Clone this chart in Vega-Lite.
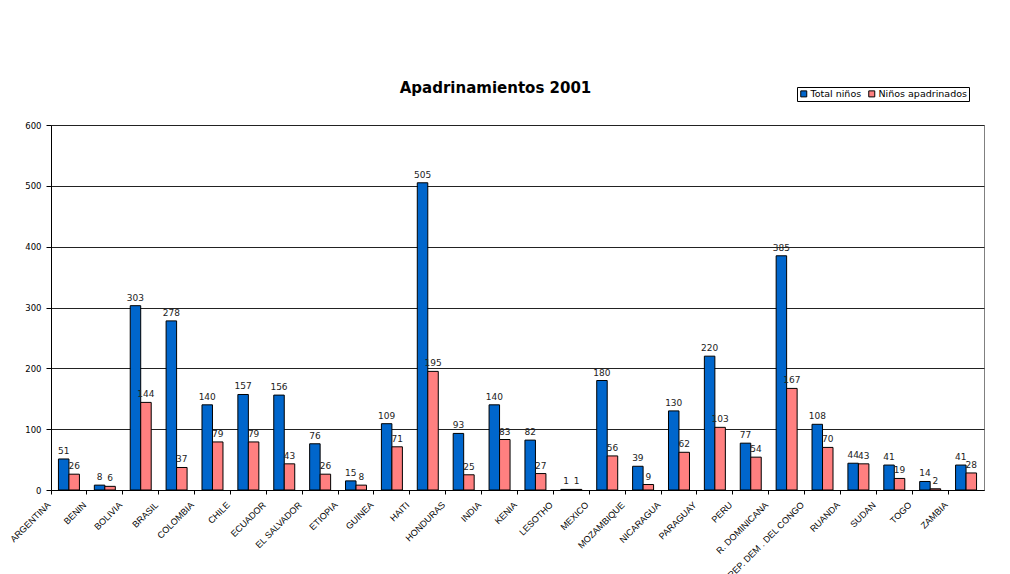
{
  "$schema": "https://vega.github.io/schema/vega-lite/v6.json",
  "autosize": {"type": "none"},
  "padding": {"left": 51, "top": 125, "right": 26, "bottom": 84},
  "width": 933,
  "height": 365,
  "background": "white",
  "title": {
    "text": "Apadrinamientos 2001",
    "font": "DejaVu Sans",
    "fontSize": 15,
    "fontWeight": "bold",
    "color": "black",
    "anchor": "middle",
    "frame": "group",
    "dx": -22,
    "dy": 33,
    "offset": 24
  },
  "config": {
    "view": {"stroke": "#808080", "strokeWidth": 1},
    "axis": {"titleFont": "Liberation Sans"}
  },
  "data": {
    "values": [
      {"pais": "ARGENTINA", "serie": "Total niños", "valor": 51},
      {"pais": "ARGENTINA", "serie": "Niños apadrinados", "valor": 26},
      {"pais": "BENIN", "serie": "Total niños", "valor": 8},
      {"pais": "BENIN", "serie": "Niños apadrinados", "valor": 6},
      {"pais": "BOLIVIA", "serie": "Total niños", "valor": 303},
      {"pais": "BOLIVIA", "serie": "Niños apadrinados", "valor": 144},
      {"pais": "BRASIL", "serie": "Total niños", "valor": 278},
      {"pais": "BRASIL", "serie": "Niños apadrinados", "valor": 37},
      {"pais": "COLOMBIA", "serie": "Total niños", "valor": 140},
      {"pais": "COLOMBIA", "serie": "Niños apadrinados", "valor": 79},
      {"pais": "CHILE", "serie": "Total niños", "valor": 157},
      {"pais": "CHILE", "serie": "Niños apadrinados", "valor": 79},
      {"pais": "ECUADOR", "serie": "Total niños", "valor": 156},
      {"pais": "ECUADOR", "serie": "Niños apadrinados", "valor": 43},
      {"pais": "EL SALVADOR", "serie": "Total niños", "valor": 76},
      {"pais": "EL SALVADOR", "serie": "Niños apadrinados", "valor": 26},
      {"pais": "ETIOPIA", "serie": "Total niños", "valor": 15},
      {"pais": "ETIOPIA", "serie": "Niños apadrinados", "valor": 8},
      {"pais": "GUINEA", "serie": "Total niños", "valor": 109},
      {"pais": "GUINEA", "serie": "Niños apadrinados", "valor": 71},
      {"pais": "HAITI", "serie": "Total niños", "valor": 505},
      {"pais": "HAITI", "serie": "Niños apadrinados", "valor": 195},
      {"pais": "HONDURAS", "serie": "Total niños", "valor": 93},
      {"pais": "HONDURAS", "serie": "Niños apadrinados", "valor": 25},
      {"pais": "INDIA", "serie": "Total niños", "valor": 140},
      {"pais": "INDIA", "serie": "Niños apadrinados", "valor": 83},
      {"pais": "KENIA", "serie": "Total niños", "valor": 82},
      {"pais": "KENIA", "serie": "Niños apadrinados", "valor": 27},
      {"pais": "LESOTHO", "serie": "Total niños", "valor": 1},
      {"pais": "LESOTHO", "serie": "Niños apadrinados", "valor": 1},
      {"pais": "MEXICO", "serie": "Total niños", "valor": 180},
      {"pais": "MEXICO", "serie": "Niños apadrinados", "valor": 56},
      {"pais": "MOZAMBIQUE", "serie": "Total niños", "valor": 39},
      {"pais": "MOZAMBIQUE", "serie": "Niños apadrinados", "valor": 9},
      {"pais": "NICARAGUA", "serie": "Total niños", "valor": 130},
      {"pais": "NICARAGUA", "serie": "Niños apadrinados", "valor": 62},
      {"pais": "PARAGUAY", "serie": "Total niños", "valor": 220},
      {"pais": "PARAGUAY", "serie": "Niños apadrinados", "valor": 103},
      {"pais": "PERU", "serie": "Total niños", "valor": 77},
      {"pais": "PERU", "serie": "Niños apadrinados", "valor": 54},
      {"pais": "R. DOMINICANA", "serie": "Total niños", "valor": 385},
      {"pais": "R. DOMINICANA", "serie": "Niños apadrinados", "valor": 167},
      {"pais": "REP. DEM . DEL CONGO", "serie": "Total niños", "valor": 108},
      {"pais": "REP. DEM . DEL CONGO", "serie": "Niños apadrinados", "valor": 70},
      {"pais": "RUANDA", "serie": "Total niños", "valor": 44},
      {"pais": "RUANDA", "serie": "Niños apadrinados", "valor": 43},
      {"pais": "SUDAN", "serie": "Total niños", "valor": 41},
      {"pais": "SUDAN", "serie": "Niños apadrinados", "valor": 19},
      {"pais": "TOGO", "serie": "Total niños", "valor": 14},
      {"pais": "TOGO", "serie": "Niños apadrinados", "valor": 2},
      {"pais": "ZAMBIA", "serie": "Total niños", "valor": 41},
      {"pais": "ZAMBIA", "serie": "Niños apadrinados", "valor": 28}
    ]
  },
  "encoding": {
    "x": {
      "field": "pais",
      "type": "nominal",
      "sort": null,
      "scale": {"paddingInner": 0, "paddingOuter": 0},
      "axis": {
        "title": null,
        "bandPosition": 0,
        "labelAngle": -45,
        "labelAlign": "right",
        "labelBaseline": "middle",
        "labelPadding": 9,
        "labelOffset": -20,
        "labelFont": "Liberation Sans",
        "labelFontSize": 9,
        "labelColor": "black",
        "labelOverlap": false,
        "labelLimit": 200,
        "tickSize": 4,
        "tickColor": "black",
        "domainColor": "black",
        "grid": false
      }
    },
    "xOffset": {
      "field": "serie",
      "type": "nominal",
      "sort": ["Total niños", "Niños apadrinados"],
      "scale": {"paddingInner": 0, "paddingOuter": 0.71}
    },
    "y": {
      "field": "valor",
      "type": "quantitative",
      "scale": {"domain": [0, 600], "nice": false},
      "axis": {
        "title": null,
        "values": [0, 100, 200, 300, 400, 500, 600],
        "labelFont": "DejaVu Sans",
        "labelFontSize": 8.5,
        "labelColor": "black",
        "labelPadding": 5,
        "tickSize": 5,
        "tickColor": "black",
        "domainColor": "black",
        "gridColor": "#222222",
        "gridWidth": 1
      }
    }
  },
  "layer": [
    {
      "mark": {"type": "bar", "stroke": "black", "strokeWidth": 1},
      "encoding": {
        "color": {
          "field": "serie",
          "type": "nominal",
          "scale": {"domain": ["Total niños", "Niños apadrinados"], "range": ["#0066CC", "#FF8080"]},
          "legend": {
            "title": null,
            "orient": "none",
            "legendX": 746,
            "legendY": -38,
            "direction": "horizontal",
            "strokeColor": "black",
            "fillColor": "white",
            "padding": 2,
            "symbolType": "square",
            "symbolSize": 36,
            "symbolStrokeColor": "black",
            "symbolStrokeWidth": 1,
            "labelFont": "DejaVu Sans",
            "labelFontSize": 9.5,
            "labelColor": "black",
            "columnPadding": 4,
            "labelOffset": 2
          }
        }
      }
    },
    {
      "mark": {"type": "text", "baseline": "bottom", "dy": -3, "font": "DejaVu Sans", "fontSize": 9, "color": "#222222"},
      "encoding": {
        "text": {"field": "valor", "type": "quantitative"}
      }
    }
  ]
}
